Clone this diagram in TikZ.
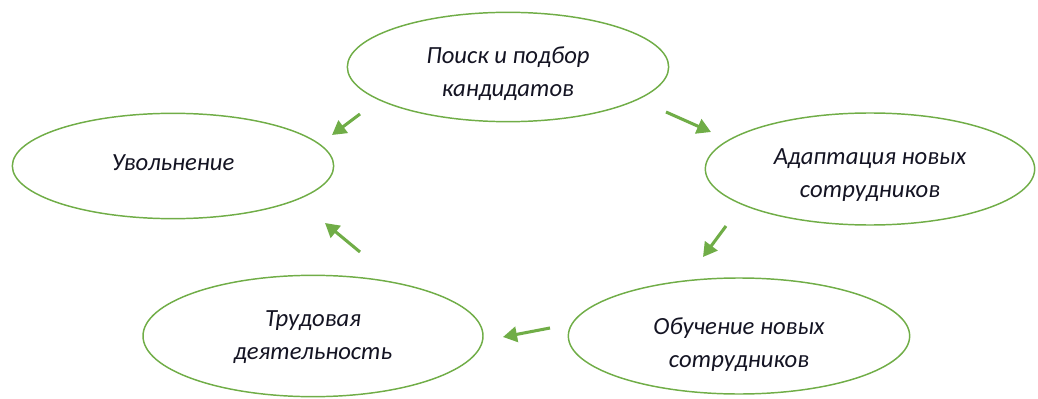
\documentclass[tikz,border=0pt]{standalone}
\usepackage{fontspec}
\setmainfont{Carlito}
\usetikzlibrary{shapes.geometric,arrows.meta}
\definecolor{ogreen}{RGB}{112,173,71}
\definecolor{otext}{RGB}{20,20,35}
\tikzset{
  stage/.style={ellipse, draw=ogreen, line width=1.1pt, inner sep=0pt},
  stagetext/.style={inner sep=0pt, align=center, text=otext,
    font=\fontsize{18.5}{24.75}\selectfont\itshape},
  flow/.style={draw=ogreen, line width=2.3pt, -{Triangle[length=10.5pt,width=11.5pt]}}
}
\begin{document}
\begin{tikzpicture}[x=0.75pt,y=-0.75pt]
\useasboundingbox (0,0) rectangle (1038,399);
\node[stage, minimum width=241pt, minimum height=82pt] (search) at (508,67) {};
\node[stage, minimum width=241pt, minimum height=79pt] (fire) at (173,166) {};
\node[stage, minimum width=247pt, minimum height=84pt] (adapt) at (870,169) {};
\node[stage, minimum width=256pt, minimum height=87pt] (train) at (739,336) {};
\node[stage, minimum width=255pt, minimum height=91pt] (work) at (313,336) {};
\node[stagetext] (searcht) at ([yshift=-4.9pt]search.center) {Поиск и подбор\\кандидатов};
\node[stagetext] (firet) at ([yshift=2.2pt]fire.center) {Увольнение};
\node[stagetext] (adaptt) at ([yshift=-4.5pt]adapt.center) {Адаптация новых\\сотрудников};
\node[stagetext] (traint) at ([yshift=-6.4pt]train.center) {Обучение новых\\сотрудников};
\node[stagetext] (workt) at ([yshift=-1.1pt]work.center) {Трудовая\\деятельность};
\coordinate (a1s) at (360,114); \coordinate (a1e) at (332,135);
\coordinate (a2s) at (666,112); \coordinate (a2e) at (711,132);
\coordinate (a3s) at (726,226); \coordinate (a3e) at (703,257);
\coordinate (a4s) at (550,328); \coordinate (a4e) at (503,337);
\coordinate (a5s) at (360,252); \coordinate (a5e) at (325,223);
\draw[flow] (a1s) -- (a1e);
\draw[flow] (a2s) -- (a2e);
\draw[flow] (a3s) -- (a3e);
\draw[flow] (a4s) -- (a4e);
\draw[flow] (a5s) -- (a5e);
\end{tikzpicture}
\end{document}
